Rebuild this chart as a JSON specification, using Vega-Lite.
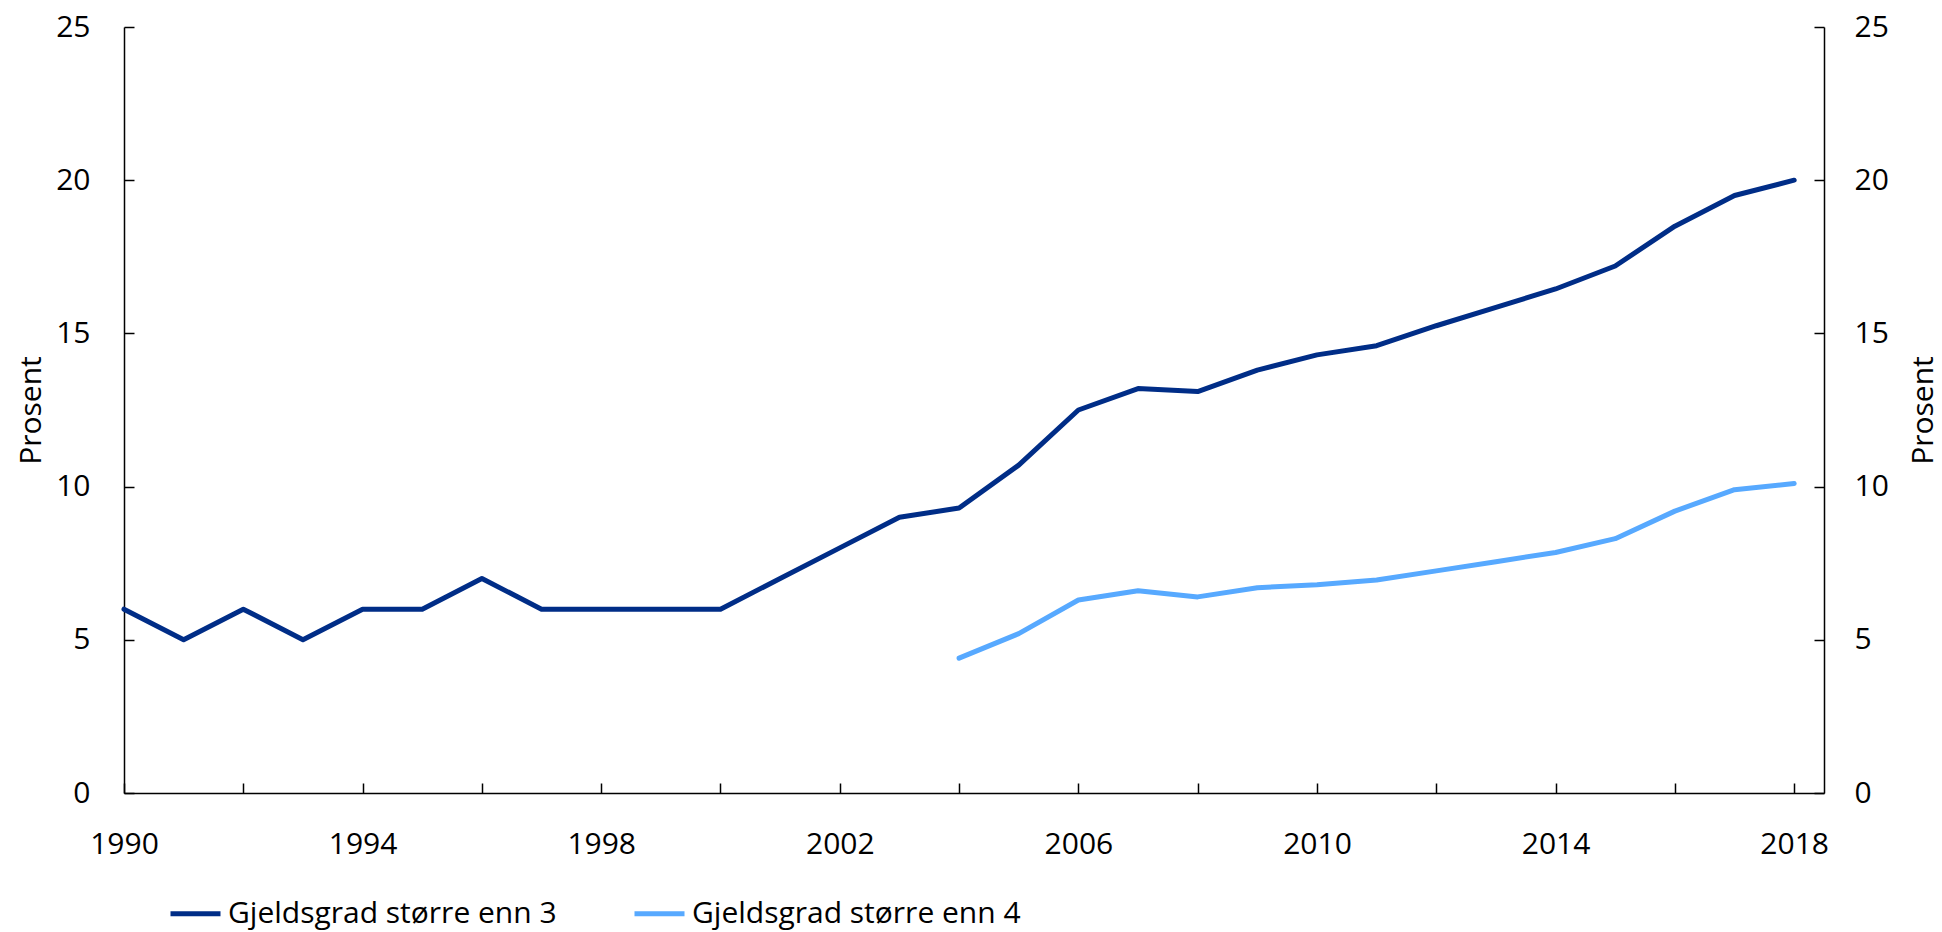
{
  "$schema": "https://vega.github.io/schema/vega-lite/v6.json",
  "width": 1700,
  "height": 766,
  "autosize": {"type": "none"},
  "padding": {"left": 124, "top": 27, "right": 118, "bottom": 139},
  "background": "white",
  "config": {
    "view": {"stroke": null},
    "font": "Open Sans",
    "axis": {
      "labelFont": "Open Sans",
      "labelFontSize": 30,
      "labelColor": "black",
      "titleFont": "Open Sans",
      "titleFontSize": 30,
      "titleFontWeight": "normal",
      "titleColor": "black",
      "domainColor": "black",
      "domainWidth": 1.5,
      "tickColor": "black",
      "tickWidth": 1.5,
      "tickSize": -10,
      "grid": false
    },
    "legend": {
      "labelFont": "Open Sans",
      "labelFontSize": 30,
      "labelColor": "black"
    }
  },
  "data": {
    "values": [
      {"year": 1990, "serie": "Gjeldsgrad større enn 3", "value": 6},
      {"year": 1991, "serie": "Gjeldsgrad større enn 3", "value": 5},
      {"year": 1992, "serie": "Gjeldsgrad større enn 3", "value": 6},
      {"year": 1993, "serie": "Gjeldsgrad større enn 3", "value": 5},
      {"year": 1994, "serie": "Gjeldsgrad større enn 3", "value": 6},
      {"year": 1995, "serie": "Gjeldsgrad større enn 3", "value": 6},
      {"year": 1996, "serie": "Gjeldsgrad større enn 3", "value": 7},
      {"year": 1997, "serie": "Gjeldsgrad større enn 3", "value": 6},
      {"year": 1998, "serie": "Gjeldsgrad større enn 3", "value": 6},
      {"year": 1999, "serie": "Gjeldsgrad større enn 3", "value": 6},
      {"year": 2000, "serie": "Gjeldsgrad større enn 3", "value": 6},
      {"year": 2001, "serie": "Gjeldsgrad større enn 3", "value": 7},
      {"year": 2002, "serie": "Gjeldsgrad større enn 3", "value": 8},
      {"year": 2003, "serie": "Gjeldsgrad større enn 3", "value": 9},
      {"year": 2004, "serie": "Gjeldsgrad større enn 3", "value": 9.3},
      {"year": 2005, "serie": "Gjeldsgrad større enn 3", "value": 10.7},
      {"year": 2006, "serie": "Gjeldsgrad større enn 3", "value": 12.5},
      {"year": 2007, "serie": "Gjeldsgrad større enn 3", "value": 13.2},
      {"year": 2008, "serie": "Gjeldsgrad større enn 3", "value": 13.1},
      {"year": 2009, "serie": "Gjeldsgrad større enn 3", "value": 13.8},
      {"year": 2010, "serie": "Gjeldsgrad større enn 3", "value": 14.3},
      {"year": 2011, "serie": "Gjeldsgrad større enn 3", "value": 14.6},
      {"year": 2012, "serie": "Gjeldsgrad større enn 3", "value": 15.25},
      {"year": 2013, "serie": "Gjeldsgrad større enn 3", "value": 15.85},
      {"year": 2014, "serie": "Gjeldsgrad større enn 3", "value": 16.45},
      {"year": 2015, "serie": "Gjeldsgrad større enn 3", "value": 17.2},
      {"year": 2016, "serie": "Gjeldsgrad større enn 3", "value": 18.5},
      {"year": 2017, "serie": "Gjeldsgrad større enn 3", "value": 19.5},
      {"year": 2018, "serie": "Gjeldsgrad større enn 3", "value": 20},
      {"year": 2004, "serie": "Gjeldsgrad større enn 4", "value": 4.4},
      {"year": 2005, "serie": "Gjeldsgrad større enn 4", "value": 5.2},
      {"year": 2006, "serie": "Gjeldsgrad større enn 4", "value": 6.3},
      {"year": 2007, "serie": "Gjeldsgrad større enn 4", "value": 6.6},
      {"year": 2008, "serie": "Gjeldsgrad større enn 4", "value": 6.4},
      {"year": 2009, "serie": "Gjeldsgrad større enn 4", "value": 6.7},
      {"year": 2010, "serie": "Gjeldsgrad større enn 4", "value": 6.8},
      {"year": 2011, "serie": "Gjeldsgrad større enn 4", "value": 6.95},
      {"year": 2012, "serie": "Gjeldsgrad større enn 4", "value": 7.25},
      {"year": 2013, "serie": "Gjeldsgrad større enn 4", "value": 7.55},
      {"year": 2014, "serie": "Gjeldsgrad større enn 4", "value": 7.85},
      {"year": 2015, "serie": "Gjeldsgrad større enn 4", "value": 8.3},
      {"year": 2016, "serie": "Gjeldsgrad større enn 4", "value": 9.2},
      {"year": 2017, "serie": "Gjeldsgrad større enn 4", "value": 9.9},
      {"year": 2018, "serie": "Gjeldsgrad større enn 4", "value": 10.1}
    ]
  },
  "encoding": {
    "x": {
      "field": "year",
      "type": "quantitative",
      "scale": {"domain": [1990, 2018.5], "nice": false, "zero": false},
      "axis": {
        "title": null,
        "values": [1990, 1992, 1994, 1996, 1998, 2000, 2002, 2004, 2006, 2008, 2010, 2012, 2014, 2016, 2018],
        "format": "d",
        "labelExpr": "datum.value % 4 == 2 ? datum.label : ''",
        "labelOverlap": false,
        "labelFlush": false,
        "labelPadding": 46
      }
    },
    "color": {
      "field": "serie",
      "type": "nominal",
      "scale": {
        "domain": ["Gjeldsgrad større enn 3", "Gjeldsgrad større enn 4"],
        "range": ["#002D87", "#57A9FF"]
      },
      "legend": {
        "title": null,
        "orient": "none",
        "direction": "horizontal",
        "legendX": 44,
        "legendY": 859,
        "symbolType": "stroke",
        "symbolSize": 2500,
        "symbolStrokeWidth": 5,
        "labelOffset": 5,
        "columnPadding": 67,
        "labelLimit": 0,
        "padding": 0
      }
    }
  },
  "layer": [
    {
      "transform": [{"filter": "datum.serie == 'Gjeldsgrad større enn 3'"}],
      "mark": {"type": "line", "strokeWidth": 5, "strokeCap": "round", "strokeJoin": "round"},
      "encoding": {
        "y": {
          "field": "value",
          "type": "quantitative",
          "scale": {"domain": [0, 25], "nice": false},
          "axis": {
            "orient": "left",
            "title": "Prosent",
            "values": [0, 5, 10, 15, 20, 25],
            "labelPadding": 44,
            "titleAngle": -90,
            "titleX": -93,
            "titleY": 383,
            "titleBaseline": "middle",
            "titleAlign": "center"
          }
        }
      }
    },
    {
      "transform": [{"filter": "datum.serie == 'Gjeldsgrad større enn 4'"}],
      "mark": {"type": "line", "strokeWidth": 5, "strokeCap": "round", "strokeJoin": "round"},
      "encoding": {
        "y": {
          "field": "value",
          "type": "quantitative",
          "scale": {"domain": [0, 25], "nice": false},
          "axis": {
            "orient": "right",
            "title": "Prosent",
            "values": [0, 5, 10, 15, 20, 25],
            "labelPadding": 40,
            "titleAngle": -90,
            "titleX": 99,
            "titleY": 383,
            "titleBaseline": "middle",
            "titleAlign": "center"
          }
        }
      }
    }
  ],
  "resolve": {"scale": {"y": "independent"}}
}
